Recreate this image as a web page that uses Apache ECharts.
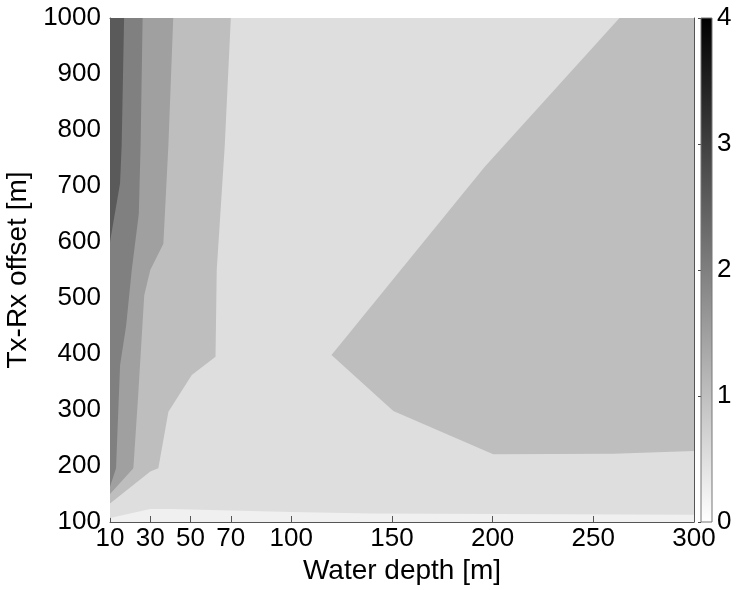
<!DOCTYPE html>
<html>
<head>
<meta charset="utf-8">
<script src="https://cdn.jsdelivr.net/npm/echarts@6/dist/echarts.min.js"></script>
<style>
  html, body { margin: 0; padding: 0; background: #fff; }
  #chart { width: 741px; height: 590px; }
</style>
</head>
<body>
<div id="chart"></div>
<script>
// tick values
const xTicks = [10, 30, 50, 70, 100, 150, 200, 250, 300];
const yTicks = [100, 200, 300, 400, 500, 600, 700, 800, 900, 1000];
const cbarTicks = [0, 1, 2, 3, 4];

// contour boundaries (water depth, offset)
// level 1: lower edge of the light band over the whole plot
const level1X = [10, 30, 40, 100, 140, 300];
const level1Y = [107, 123, 123, 118, 115, 113];
// level 2, left region: top edge down to the left axis
const level2LeftX = [70, 67, 63, 62.4, 50.6, 39, 34, 30, 10];
const level2LeftY = [1000, 773, 550, 395, 362.5, 297, 196, 190, 133];
// level 2, right region: top edge -> tip -> right edge
const level2RightX = [263, 196, 120, 150.7, 200.3, 260, 300];
const level2RightY = [1000, 734, 398, 298, 221, 222, 227];
// level 3
const level3X = [41.4, 39, 36.5, 30, 27, 24, 21.6, 10];
const level3Y = [1000, 773, 597, 550, 505, 327, 196, 150];
// level 4
const level4X = [26.2, 25.2, 24.3, 20.8, 18, 15, 13, 10];
const level4Y = [1000, 773, 650, 550, 450, 380, 196, 163];
// level 5
const level5X = [17, 15.8, 15, 10];
const level5Y = [1000, 773, 705, 600];

const bandColors = ['#dedede', '#bebebe', '#bebebe', '#a0a0a0', '#808080', '#5a5a5a'];

const X_MIN = 10, X_MAX = 300, Y_MIN = 100, Y_MAX = 1000;
const zip = (xs, ys) => xs.map((x, i) => [x, ys[i]]);

const polygons = [
  zip(level1X, level1Y).concat([[X_MAX, Y_MAX], [X_MIN, Y_MAX]]),
  [[X_MIN, Y_MAX]].concat(zip(level2LeftX, level2LeftY)),
  zip(level2RightX, level2RightY).concat([[X_MAX, Y_MAX]]),
  [[X_MIN, Y_MAX]].concat(zip(level3X, level3Y)),
  [[X_MIN, Y_MAX]].concat(zip(level4X, level4Y)),
  [[X_MIN, Y_MAX]].concat(zip(level5X, level5Y))
];

const chart = echarts.init(document.getElementById('chart'), null, { renderer: 'canvas' });

const font = 'Liberation Sans, Arial, Helvetica, sans-serif';
const axisColor = '#555';
const labelStyle = { color: '#000', fontSize: 26, fontFamily: font };
const plain = v => String(v);

chart.setOption({
  animation: false,
  backgroundColor: '#fff',
  grid: [
    { left: 110, right: 47, top: 18, bottom: 68, show: true, backgroundColor: '#f0f0f0', borderWidth: 0, outerBoundsMode: 'none', containLabel: false },
    { left: 701, width: 11, top: 18, height: 504, show: false, outerBoundsMode: 'none', containLabel: false }
  ],
  xAxis: [
    {
      gridIndex: 0, type: 'value', min: X_MIN, max: X_MAX,
      name: 'Water depth [m]', nameLocation: 'middle', nameGap: 34,
      nameTextStyle: { color: '#000', fontSize: 28, fontFamily: font },
      axisLine: { show: true, lineStyle: { color: axisColor, width: 1 } },
      axisTick: { show: true, inside: true, length: 6, customValues: xTicks, lineStyle: { color: axisColor } },
      axisLabel: { ...labelStyle, margin: 4, customValues: xTicks, formatter: plain },
      splitLine: { show: false }
    },
    {
      gridIndex: 0, type: 'value', min: X_MIN, max: X_MAX, position: 'top',
      axisLine: { show: true, lineStyle: { color: axisColor, width: 1 } },
      axisTick: { show: true, inside: true, length: 6, customValues: xTicks, lineStyle: { color: axisColor } },
      axisLabel: { show: false },
      splitLine: { show: false }
    },
    {
      gridIndex: 1, type: 'value', min: 0, max: 1, show: false
    }
  ],
  yAxis: [
    {
      gridIndex: 0, type: 'value', min: Y_MIN, max: Y_MAX, interval: 100,
      name: 'Tx-Rx offset [m]', nameLocation: 'middle', nameGap: 70,
      nameTextStyle: { color: '#000', fontSize: 28, fontFamily: font },
      axisLine: { show: true, lineStyle: { color: axisColor, width: 1 } },
      axisTick: { show: true, inside: true, length: 6, lineStyle: { color: axisColor } },
      axisLabel: { ...labelStyle, margin: 9, formatter: plain },
      splitLine: { show: false }
    },
    {
      gridIndex: 0, type: 'value', min: Y_MIN, max: Y_MAX, interval: 100, position: 'right',
      axisLine: { show: true, lineStyle: { color: axisColor, width: 1 } },
      axisTick: { show: true, inside: true, length: 6, lineStyle: { color: axisColor } },
      axisLabel: { show: false },
      splitLine: { show: false }
    },
    {
      gridIndex: 1, type: 'value', min: 0, max: 4, interval: 1, position: 'right',
      axisLine: { show: false },
      axisTick: { show: true, inside: true, length: 3, lineStyle: { color: '#444', type: 'dashed' } },
      axisLabel: { ...labelStyle, margin: 5, formatter: plain },
      splitLine: { show: false }
    }
  ],
  series: [
    {
      type: 'custom',
      xAxisIndex: 0, yAxisIndex: 0,
      silent: true,
      data: polygons.map((p, i) => [X_MIN, Y_MIN, i]),
      encode: { x: 0, y: 1 },
      renderItem: (params, api) => {
        const i = api.value(2);
        return {
          type: 'polygon',
          shape: { points: polygons[i].map(pt => api.coord(pt)) },
          style: { fill: bandColors[i], stroke: null }
        };
      },
      z: 1
    },
    {
      type: 'custom',
      xAxisIndex: 2, yAxisIndex: 2,
      silent: true,
      data: [[0, 0]],
      renderItem: (params, api) => {
        const p0 = api.coord([0, 4]);
        const p1 = api.coord([1, 0]);
        return {
          type: 'rect',
          shape: { x: p0[0], y: p0[1], width: p1[0] - p0[0], height: p1[1] - p0[1] },
          style: {
            fill: new echarts.graphic.LinearGradient(0, 0, 0, 1, [
              { offset: 0, color: '#000' },
              { offset: 1, color: '#fff' }
            ]),
            stroke: '#777',
            lineWidth: 1
          }
        };
      }
    }
  ]
});

window.addEventListener('resize', () => chart.resize());
</script>
</body>
</html>
